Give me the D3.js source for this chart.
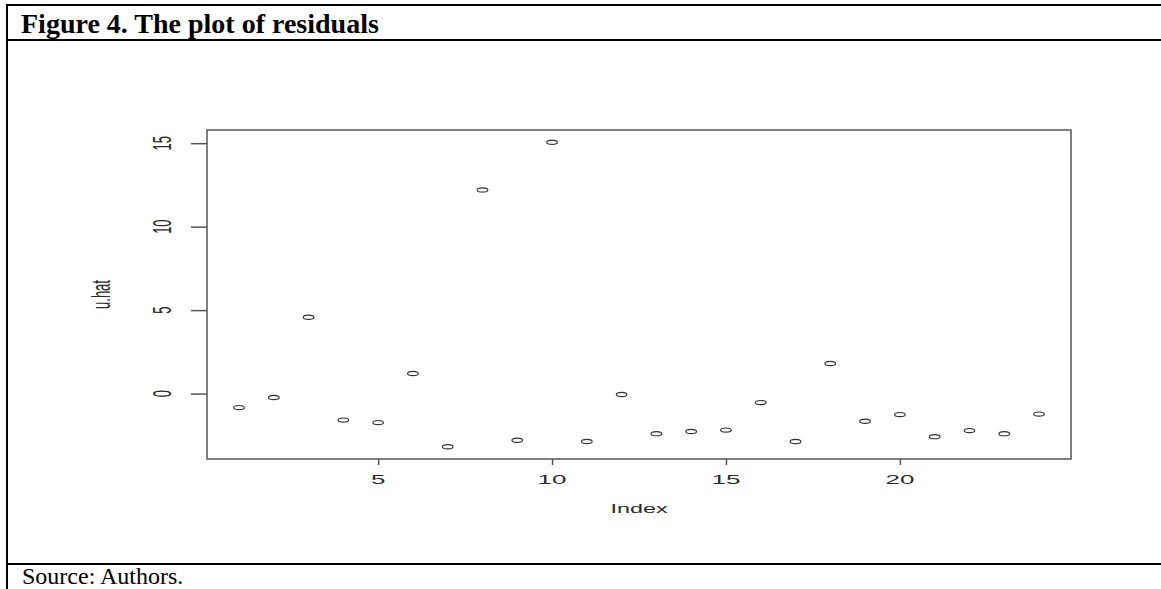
<!DOCTYPE html>
<html>
<head>
<meta charset="utf-8">
<script src="https://cdn.jsdelivr.net/npm/d3@7"></script>
<style>
  body { margin: 0; background: #fff; }
  svg { display: block; }
</style>
</head>
<body>
<div id="chart"></div>
<script>
var indexValues = [1, 2, 3, 4, 5, 6, 7, 8, 9, 10, 11, 12, 13, 14, 15, 16, 17, 18, 19, 20, 21, 22, 23, 24];
var uhat = [-0.84, -0.24, 4.57, -1.59, -1.74, 1.20, -3.19, 12.20, -2.80, 15.06, -2.87, -0.06,
            -2.40, -2.27, -2.19, -0.54, -2.87, 1.80, -1.66, -1.26, -2.58, -2.22, -2.40, -1.23];
var xTicks = [5, 10, 15, 20];
var yTicks = [0, 5, 10, 15];

var titleText = "Figure 4. The plot of residuals";
var sourceText = "Source: Authors.";

var W = 1161, H = 589;
// plot box in page pixels
var box = { left: 207, right: 1071, top: 130, bottom: 459 };
var stretch = 2.0; // the R plot was stretched sideways

var svg = d3.select("#chart")
    .append("svg")
    .attr("width", W)
    .attr("height", H);

// table frame around the figure
svg.append("line").attr("x1", 7).attr("x2", W).attr("y1", 5).attr("y2", 5)
    .attr("stroke", "#000").attr("stroke-width", 2);
svg.append("line").attr("x1", 7).attr("x2", W).attr("y1", 40).attr("y2", 40)
    .attr("stroke", "#000").attr("stroke-width", 2);
svg.append("line").attr("x1", 7).attr("x2", W).attr("y1", 564).attr("y2", 564)
    .attr("stroke", "#000").attr("stroke-width", 2);
svg.append("line").attr("x1", 7).attr("x2", 7).attr("y1", 4).attr("y2", H)
    .attr("stroke", "#000").attr("stroke-width", 2);

svg.append("text")
    .attr("x", 21)
    .attr("y", 33)
    .attr("font-family", "Liberation Serif, Times New Roman, serif")
    .attr("font-weight", "bold")
    .attr("font-size", "28px")
    .text(titleText);

svg.append("text")
    .attr("x", 22)
    .attr("y", 584)
    .attr("font-family", "Liberation Serif, Times New Roman, serif")
    .attr("font-size", "24px")
    .text(sourceText);

// Scales, R style: 4% padding on both sides of the data range
function padded(ext){
    var r = ext[1] - ext[0];
    return [ext[0] - 0.04 * r, ext[1] + 0.04 * r];
}

var x = d3.scaleLinear()
    .domain(padded(d3.extent(indexValues)))
    .range([box.left, box.right]);

var y = d3.scaleLinear()
    .domain(padded(d3.extent(uhat)))
    .range([box.bottom, box.top]);

var axisColor = "#555";
var labelColor = "#2a2a2a";
var sansFont = "Liberation Sans, Arial, Helvetica, sans-serif";

// X axis
var xAxis = svg.append("g")
    .attr("transform", "translate(0," + box.bottom + ")")
    .call(d3.axisBottom(x).tickValues(xTicks).tickSize(6).tickSizeOuter(0).tickFormat(""));
xAxis.select(".domain").remove();
xAxis.selectAll(".tick line").attr("stroke", axisColor).attr("stroke-width", 1.5);

xTicks.forEach(function(t){
    svg.append("text")
        .attr("transform", "translate(" + x(t) + ",484) scale(" + stretch + ",1)")
        .attr("text-anchor", "middle")
        .attr("font-family", sansFont)
        .attr("font-size", "13px")
        .attr("fill", labelColor)
        .text(t);
});

// Y axis
var yAxis = svg.append("g")
    .attr("transform", "translate(" + box.left + ",0)")
    .call(d3.axisLeft(y).tickValues(yTicks).tickSize(16).tickSizeOuter(0).tickFormat(""));
yAxis.select(".domain").remove();
yAxis.selectAll(".tick line").attr("stroke", axisColor).attr("stroke-width", 1.5);

yTicks.forEach(function(t){
    svg.append("text")
        .attr("transform", "translate(171," + y(t) + ") scale(" + stretch + ",1) rotate(-90)")
        .attr("text-anchor", "middle")
        .attr("font-family", sansFont)
        .attr("font-size", "13px")
        .attr("fill", labelColor)
        .text(t);
});

// axis titles
svg.append("text")
    .attr("transform", "translate(" + ((box.left + box.right) / 2) + ",513) scale(1.8,1)")
    .attr("text-anchor", "middle")
    .attr("font-family", sansFont)
    .attr("font-size", "13px")
    .attr("fill", labelColor)
    .text("Index");

svg.append("text")
    .attr("transform", "translate(110," + ((box.top + box.bottom) / 2) + ") scale(" + stretch + ",1) rotate(-90)")
    .attr("text-anchor", "middle")
    .attr("font-family", sansFont)
    .attr("font-size", "13px")
    .attr("fill", labelColor)
    .text("u.hat");

// plot box
svg.append("rect")
    .attr("x", box.left)
    .attr("y", box.top)
    .attr("width", box.right - box.left)
    .attr("height", box.bottom - box.top)
    .attr("fill", "none")
    .attr("stroke", axisColor)
    .attr("stroke-width", 1.5);

// points (open circles, stretched into ellipses)
svg.selectAll("ellipse.pt")
    .data(uhat)
    .enter().append("ellipse")
    .attr("class", "pt")
    .attr("cx", function(d, i){ return x(indexValues[i]); })
    .attr("cy", function(d){ return y(d); })
    .attr("rx", 5.3)
    .attr("ry", 2.1)
    .attr("fill", "none")
    .attr("stroke", "#333")
    .attr("stroke-width", 1.2);
</script>
</body>
</html>
